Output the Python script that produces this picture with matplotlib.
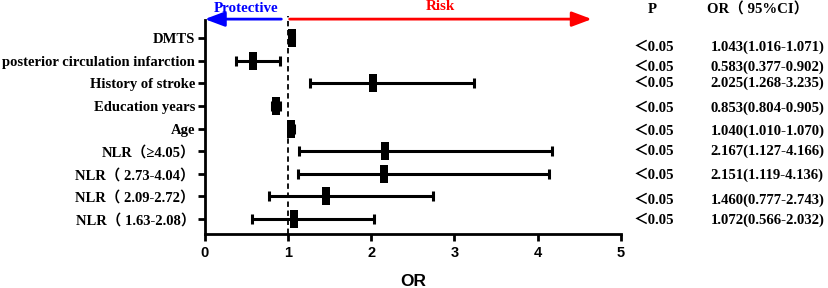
#!/usr/bin/env python3
import matplotlib
matplotlib.use('Agg')
from matplotlib import pyplot as plt

labels = ['DMTS', 'posterior circulation infarction', 'History of stroke', 'Education years', 'Age',
          'NLR（≥4.05）', 'NLR（ 2.73-4.04）', 'NLR（ 2.09-2.72）', 'NLR（ 1.63-2.08）']
odds = [1.043, 0.583, 2.025, 0.853, 1.040, 2.167, 2.151, 1.460, 1.072]
ci_low = [1.016, 0.377, 1.268, 0.804, 1.010, 1.127, 1.119, 0.777, 0.566]
ci_high = [1.071, 0.902, 3.235, 0.905, 1.070, 4.166, 4.136, 2.743, 2.032]
p_text = ['＜0.05', '＜0.05', '＜0.05', '＜0.05', '＜0.05', '＜0.05', '＜0.05', '＜0.05', '＜0.05']
or_text = ['1.043(1.016-1.071)', '0.583(0.377-0.902)', '2.025(1.268-3.235)', '0.853(0.804-0.905)',
           '1.040(1.010-1.070)', '2.167(1.127-4.166)', '2.151(1.119-4.136)', '1.460(0.777-2.743)',
           '1.072(0.566-2.032)']
# small vertical nudges of the right-hand text rows, as in the original
text_shift = [-0.4, -0.3, 0.0, -0.1, -0.1, 0.0, -0.05, -0.15, -0.05]

serif = ['Liberation Serif', 'Noto Sans CJK SC']
plt.rcParams['font.family'] = serif
plt.rcParams['font.weight'] = 'bold'

n = len(labels)
ypos = [n - i for i in range(n)]

f = plt.figure(figsize=(8.29, 2.88), dpi=100)
ax = f.add_axes([0.247, 0.1875, 0.502, 0.743])

rect = [(-0.23, -0.5), (0.23, -0.5), (0.23, 0.5), (-0.23, 0.5), (-0.23, -0.5)]
for y, o, lo, hi in zip(ypos, odds, ci_low, ci_high):
    ax.errorbar([o], [y], xerr=[[o - lo], [hi - o]], fmt='none', ecolor='black',
                elinewidth=2.2, capsize=3.5, capthick=2.2)
    ax.plot([o], [y], marker=rect, markersize=13, markeredgewidth=0, color='black',
            linestyle='none')

ax.axvline(1, color='black', linestyle=(0, (3, 2)), linewidth=1.3, ymax=1.02, clip_on=False)

ax.set_xlim(0, 5)
ax.set_ylim(0.34, 9.8)
ax.set_yticks(ypos)
ax.set_yticklabels(labels, fontsize=10.5, fontweight='bold', family=serif)
ax.set_xticks([0, 1, 2, 3, 4, 5])
ax.set_xticklabels(['0', '1', '2', '3', '4', '5'], fontsize=10.5, fontweight='bold',
                   family='Liberation Sans')
ax.set_xlabel('OR', fontsize=12.5, fontweight='bold', family='Liberation Sans', labelpad=10)
ax.tick_params(axis='both', width=2, length=5, direction='out')
ax.tick_params(axis='y', pad=2)
ax.spines['top'].set_visible(False)
ax.spines['right'].set_visible(False)
ax.spines['left'].set_linewidth(2)
ax.spines['bottom'].set_linewidth(2)

# direction arrows above the plot
top = 9.84
ax.annotate('', xy=(0.0, top), xytext=(0.92, top), xycoords='data', annotation_clip=False,
            arrowprops=dict(arrowstyle='-|>,head_length=0.8,head_width=0.3', color='blue',
                            lw=2, mutation_scale=15, shrinkA=0, shrinkB=0))
ax.annotate('', xy=(4.65, top), xytext=(1.02, top), xycoords='data', annotation_clip=False,
            arrowprops=dict(arrowstyle='-|>,head_length=0.8,head_width=0.3', color='red',
                            lw=2, mutation_scale=15, shrinkA=0, shrinkB=0))
ax.text(0.5, top + 0.2, 'Protective', color='blue', fontsize=10.8, fontweight='bold',
        ha='center', va='bottom', clip_on=False)
ax.text(2.83, top + 0.25, 'Risk', color='red', fontsize=10.8, fontweight='bold',
        ha='center', va='bottom', clip_on=False)

# right-hand columns
ax.text(5.38, 10.25, 'P', fontsize=10.6, fontweight='bold', ha='center', va='center', clip_on=False)
ax.text(6.04, 10.25, 'OR（ 95%CI）', fontsize=10.6, fontweight='bold', ha='left', va='center',
        clip_on=False)
for y, s, p, t in zip(ypos, text_shift, p_text, or_text):
    ax.text(5.15, y + s, p, fontsize=10.6, fontweight='bold', ha='left', va='center', clip_on=False)
    ax.text(6.08, y + s, t, fontsize=10.6, fontweight='bold', ha='left', va='center', clip_on=False)

f.savefig('out.png', dpi=100)
